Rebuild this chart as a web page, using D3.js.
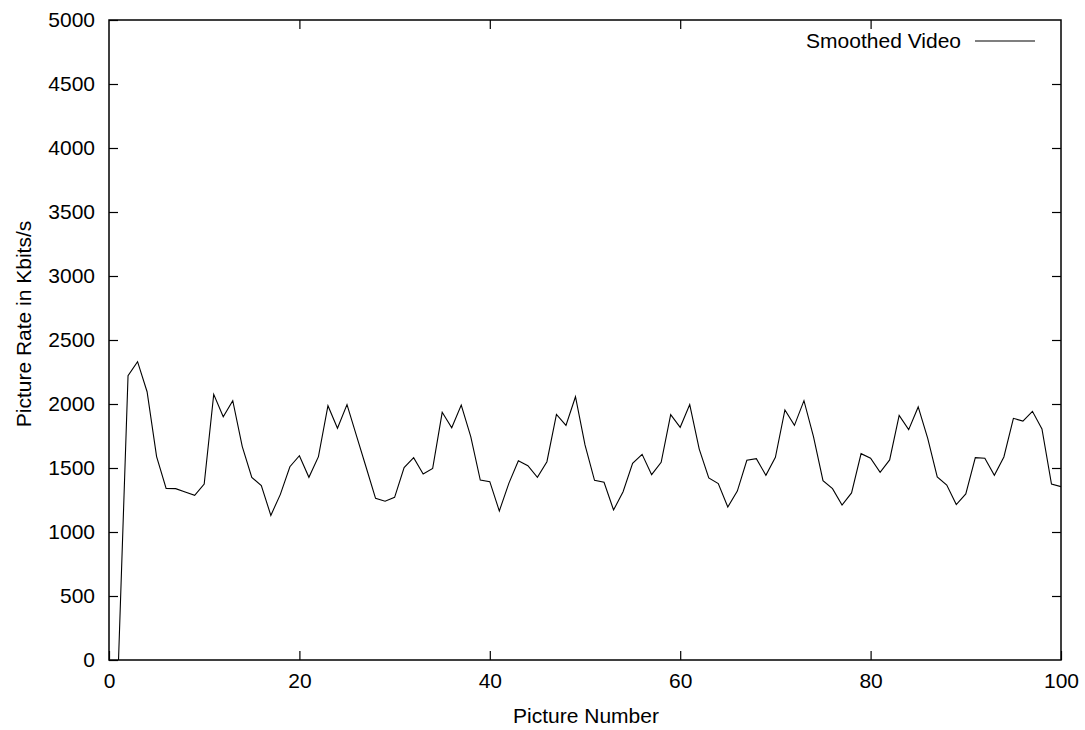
<!DOCTYPE html>
<html>
<head>
<meta charset="utf-8">
<script src="https://cdn.jsdelivr.net/npm/d3@7"></script>
<style>
  html, body { margin: 0; padding: 0; background: #fff; }
  svg { display: block; }
  text { font-family: "Liberation Sans", Arial, Helvetica, sans-serif; fill: #000; }
</style>
</head>
<body>
<svg id="chart" width="1085" height="730"></svg>
<script>
// ---- data ----
const pictureNumbers = d3.range(1, 101);
const smoothedVideo = [
  0, 2221, 2331, 2096, 1589, 1341, 1339, 1312, 1286, 1375,
  2075, 1901, 2026, 1667, 1427, 1362, 1130, 1294, 1510, 1596,
  1427, 1589, 1987, 1810, 1995, 1751, 1508, 1263, 1240, 1271,
  1503, 1581, 1453, 1497, 1935, 1815, 1992, 1745, 1406, 1393,
  1164, 1380, 1557, 1518, 1427, 1549, 1919, 1833, 2057, 1680,
  1404, 1388, 1172, 1315, 1536, 1607, 1448, 1544, 1917, 1818,
  1995, 1648, 1422, 1378, 1195, 1320, 1560, 1573, 1443, 1583,
  1953, 1833, 2026, 1745, 1401, 1339, 1211, 1305, 1612, 1576,
  1466, 1563, 1911, 1800, 1977, 1732, 1430, 1367, 1214, 1297,
  1581, 1576, 1443, 1586, 1888, 1867, 1943, 1805, 1375, 1354
];
const xTicks = [0, 20, 40, 60, 80, 100];
const yTicks = [0, 500, 1000, 1500, 2000, 2500, 3000, 3500, 4000, 4500, 5000];
const seriesName = "Smoothed Video";
const xTitle = "Picture Number";
const yTitle = "Picture Rate in Kbits/s";

// ---- layout ----
const mL = 109, mR = 1061, mT = 20, mB = 660;
const svg = d3.select("#chart");
const x = d3.scaleLinear().domain([0, 100]).range([mL, mR]);
const y = d3.scaleLinear().domain([0, 5000]).range([mB, mT]);
const fs = 21, tickLen = 9;

const g = svg.append("g");

svg.append("defs").append("clipPath").attr("id", "clip")
  .append("rect").attr("x", mL).attr("y", mT).attr("width", mR - mL).attr("height", mB - mT);

const data = pictureNumbers.map((p, i) => [p, smoothedVideo[i]]);
g.append("path")
  .datum(data)
  .attr("clip-path", "url(#clip)")
  .attr("fill", "none")
  .attr("stroke", "#000")
  .attr("stroke-width", 1.1)
  .attr("d", d3.line().x(d => x(d[0])).y(d => y(d[1])));

const axStyle = sel => {
  sel.select(".domain").remove();
  sel.selectAll(".tick line").attr("stroke", "#000").attr("stroke-width", 1.2);
  sel.selectAll("text").style("font-size", fs + "px").style("font-family", '"Liberation Sans", Arial, sans-serif').attr("fill", "#000");
};

g.append("g").attr("transform", `translate(0,${mB})`)
  .call(d3.axisBottom(x).tickValues(xTicks).tickSize(-tickLen).tickPadding(13).tickFormat(d3.format("d")))
  .call(axStyle);
g.append("g").attr("transform", `translate(0,${mT})`)
  .call(d3.axisTop(x).tickValues(xTicks.slice(1, -1)).tickSize(-tickLen).tickFormat(""))
  .call(axStyle);
g.append("g").attr("transform", `translate(${mL},0)`)
  .call(d3.axisLeft(y).tickValues(yTicks).tickSize(-tickLen).tickPadding(14).tickFormat(d3.format("d")))
  .call(axStyle);
g.append("g").attr("transform", `translate(${mR},0)`)
  .call(d3.axisRight(y).tickValues(yTicks.slice(1, -1)).tickSize(-tickLen).tickFormat(""))
  .call(axStyle);

g.append("rect")
  .attr("x", mL).attr("y", mT).attr("width", mR - mL).attr("height", mB - mT)
  .attr("fill", "none").attr("stroke", "#000").attr("stroke-width", 1.5);

g.append("text")
  .attr("x", 586).attr("y", 723)
  .attr("text-anchor", "middle").style("font-size", fs + "px")
  .text(xTitle);
g.append("text")
  .attr("transform", `translate(31,324) rotate(-90)`)
  .attr("text-anchor", "middle").style("font-size", fs + "px")
  .text(yTitle);

g.append("text")
  .attr("x", 961).attr("y", 48)
  .attr("text-anchor", "end").style("font-size", fs + "px")
  .text(seriesName);
g.append("line")
  .attr("x1", 975).attr("x2", 1035).attr("y1", 41).attr("y2", 41)
  .attr("stroke", "#000").attr("stroke-width", 1.1);
</script>
</body>
</html>
